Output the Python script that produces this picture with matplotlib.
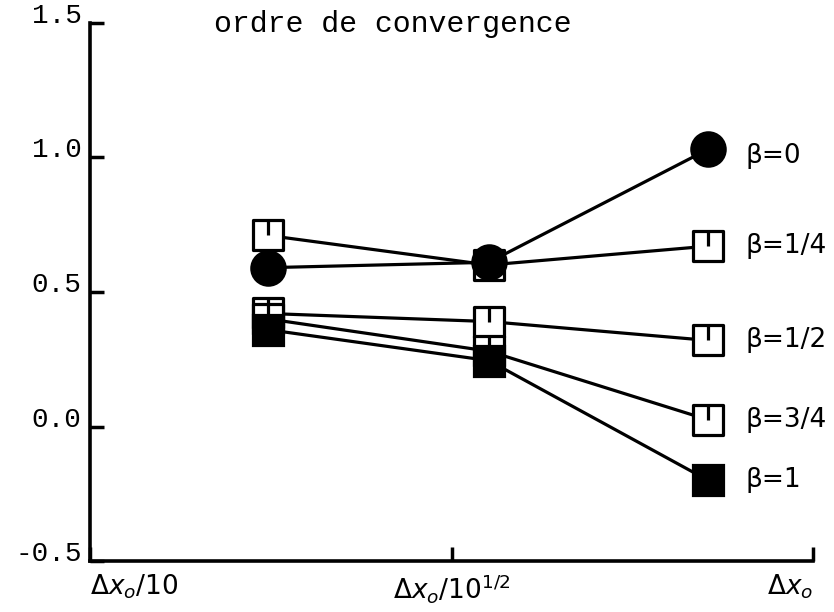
import matplotlib
matplotlib.use("Agg")
import matplotlib.pyplot as plt
from matplotlib.path import Path

# step sizes (log scale between dx0/10 and dx0)
dx = [0.176, 0.356, 0.716]
tick_pos = [0.1, 10 ** -0.5, 1.0]
tick_labels = [r"$\Delta x_o/10$", r"$\Delta x_o/10^{1/2}$", r"$\Delta x_o$"]

order_b0 = [0.59, 0.61, 1.03]
order_b14 = [0.71, 0.60, 0.67]
order_b12 = [0.42, 0.39, 0.32]
order_b34 = [0.40, 0.28, 0.025]
order_b1 = [0.36, 0.245, -0.20]

y_ticks = [-0.5, 0.0, 0.5, 1.0, 1.5]
y_labels = ["-0.5", "0.0", "0.5", "1.0", "1.5"]

# open square with a little vertical stroke from the top down to the centre
codes = [Path.MOVETO, Path.LINETO, Path.LINETO, Path.LINETO, Path.CLOSEPOLY,
         Path.MOVETO, Path.LINETO]
verts = [(-1, -1), (1, -1), (1, 1), (-1, 1), (-1, -1), (0, 1), (0, 0)]
open_sq = Path(verts, codes)

fig = plt.figure(figsize=(8.34, 6.12), dpi=100)
ax = fig.add_axes([0.108, 0.083, 0.867, 0.880])

lw = 2.3
series = [
    ("β=1/4", order_b14, dict(marker=open_sq, ms=21, mfc="white"), 0),
    ("β=0", order_b0, dict(marker="o", ms=24, mfc="black"), 7),
    ("β=1/2", order_b12, dict(marker=open_sq, ms=21, mfc="white"), 0),
    ("β=3/4", order_b34, dict(marker=open_sq, ms=21, mfc="white"), 0),
    ("β=1", order_b1, dict(marker="s", ms=21, mfc="black"), 0),
]
for name, vals, style, dy in series:
    ax.plot(dx, vals, color="black", lw=lw, mec="black", mew=2.3, **style)
    ax.annotate(name, (dx[-1], vals[-1]), xytext=(37, -dy),
                textcoords="offset pixels", ha="left", va="center",
                fontsize=19, family="DejaVu Sans")

ax.set_xscale("log")
ax.set_xlim(0.1, 1.0)
ax.set_ylim(-0.5, 1.5)
ax.minorticks_off()

ax.set_xticks(tick_pos)
ax.set_xticklabels(tick_labels, fontsize=19)
xl = ax.get_xticklabels()
xl[0].set_ha("left")
xl[2].set_ha("right")

ax.set_yticks(y_ticks)
ax.set_yticklabels(y_labels, family="Liberation Mono", fontsize=20,
                   va="baseline")

ax.tick_params(axis="both", direction="in", width=2.5, length=10)
ax.tick_params(axis="x", pad=8)
ax.tick_params(axis="y", pad=6)

for s in ["top", "right"]:
    ax.spines[s].set_visible(False)
for s in ["left", "bottom"]:
    ax.spines[s].set_linewidth(2.6)

fig.text(393 / 834, 1 - 32 / 612, "ordre de convergence", ha="center",
         va="baseline", family="Liberation Mono", fontsize=21.5)

fig.savefig("out.png", dpi=100)
